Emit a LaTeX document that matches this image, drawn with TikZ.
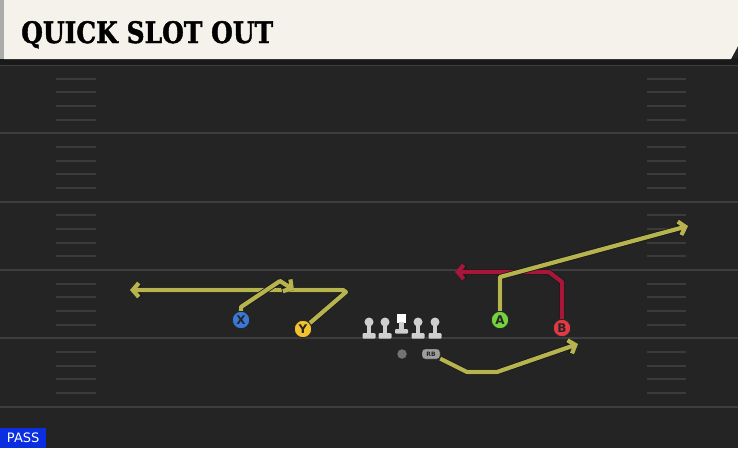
\documentclass[tikz,border=0pt]{standalone}
\usepackage{fontspec}
\usepackage{tikz}
\usetikzlibrary{arrows.meta}
\setsansfont{DejaVu Sans}
\newfontfamily\titlefont[BoldFeatures={FakeBold=1.6}]{DejaVu Serif}

\definecolor{fieldbg}{HTML}{242424}
\definecolor{yardln}{HTML}{3D3D3D}
\definecolor{hashln}{HTML}{3B3B3B}
\definecolor{headbg}{HTML}{F4F2EB}
\definecolor{headedge}{HTML}{ABABA9}
\definecolor{rtyellow}{HTML}{B7B44F}
\definecolor{rtred}{HTML}{A8173A}
\definecolor{pblue}{HTML}{3A78D8}
\definecolor{pyellow}{HTML}{F2C230}
\definecolor{pgreen}{HTML}{74D23F}
\definecolor{pred}{HTML}{E23A42}
\definecolor{passblue}{HTML}{0A2FE0}
\definecolor{olgray}{HTML}{CFCFCF}

\tikzset{
  player/.style={circle,draw=black!85,line width=.9pt,minimum size=17.5pt,inner sep=0pt,
    font=\sffamily\bfseries\fontsize{12}{12}\selectfont,text=black!85},
  route/.style={line width=4.2pt,line join=round,
    preaction={draw=black!90,line width=5.8pt,line join=round}},
  rtarrow/.style={-{Straight Barb[length=6pt,width=14pt]},
    preaction={-{Straight Barb[length=6pt,width=14pt]}}},
}

\begin{document}
\begin{tikzpicture}[x=1pt,y=-1pt]
\useasboundingbox (0,0) rectangle (738,448);
\fill[fieldbg] (0,0) rectangle (738,448);

% yard lines and hashes
\foreach \k in {0,...,5}
  \draw[yardln,line width=2pt] (0,65+68.3*\k) -- (738,65+68.3*\k);
\foreach \k in {0,...,4}
  \foreach \j in {1,...,4} {
    \draw[hashln,line width=2pt] (56,65+68.3*\k+13.66*\j) -- (96,65+68.3*\k+13.66*\j);
    \draw[hashln,line width=2pt] (647,65+68.3*\k+13.66*\j) -- (686,65+68.3*\k+13.66*\j);
  }

% header
\fill[black!90] (0,58) rectangle (738,65);
\fill[headbg] (4,0) -- (738,0) -- (738,46) -- (731,59) -- (4,59) -- cycle;
\fill[headedge] (0,0) rectangle (4,59);
\path (21,43) node[anchor=base west,inner sep=0pt] (title)
  {\resizebox{252pt}{22pt}{\titlefont\bfseries QUICK SLOT OUT}};

% line
\path (369,322) coordinate (lt);
\path (385,322) coordinate (lg);
\path (418,322) coordinate (rg);
\path (435,322) coordinate (rt);
\foreach \p in {lt,lg,rg,rt} {
  \fill[olgray] (\p) circle (4.5);
  \fill[olgray] (\p) ++(-2.4,0) rectangle ++(4.8,12);
  \fill[olgray,rounded corners=1pt] (\p) ++(-6.5,11) rectangle ++(13,5.5);
}
\path (401.5,318) coordinate (c);
\fill[white] (c) ++(-4.5,-4.5) rectangle ++(9,9);
\fill[olgray] (c) ++(-2.4,4) rectangle ++(4.8,9);
\fill[olgray,rounded corners=1pt] (c) ++(-6.5,11) rectangle ++(13,4.5);

\path (402,354) node[circle,fill=black!55,minimum size=9.5pt,inner sep=0pt] (qb) {};
\path (431,354) node[draw=black!85,fill=black!38,rounded corners=3pt,minimum width=18pt,
  minimum height=10pt,inner sep=0pt,font=\sffamily\bfseries\fontsize{6}{6}\selectfont,
  text=black!85] (rb) {RB};

% receivers
\path (241,320) node[player,fill=pblue] (X) {X};
\path (303,329) node[player,fill=pyellow] (Y) {Y};
\path (500,320) node[player,fill=pgreen] (A) {A};
\path (562,328) node[player,fill=pred] (B) {B};

% routes
\path (294,290) coordinate (xend);
\path (130,290) coordinate (yend);
\path (688,226) coordinate (aend);
\path (455,272) coordinate (bend);
\path (578,344) coordinate (rbend);

\draw[route,rtred,rtarrow] (B) -- (562,282) -- (549,272) -- (bend);
\draw[route,rtyellow,rtarrow] (A) -- (500,277) -- (aend);
\draw[route,rtyellow,rtarrow] (Y) -- (346,292) -- (343,290) -- (yend);
\draw[route,rtyellow,rtarrow] (X) -- (241,307) -- (280,281) -- (xend);
\draw[route,rtyellow,rtarrow] (rb) -- (467,372) -- (497,372) -- (rbend);

\path (0,448) node[anchor=south west,fill=passblue,text=white,minimum width=46pt,
  minimum height=20pt,inner sep=1pt,font=\sffamily\fontsize{13}{13}\selectfont] (pass) {PASS};
\end{tikzpicture}
\end{document}
